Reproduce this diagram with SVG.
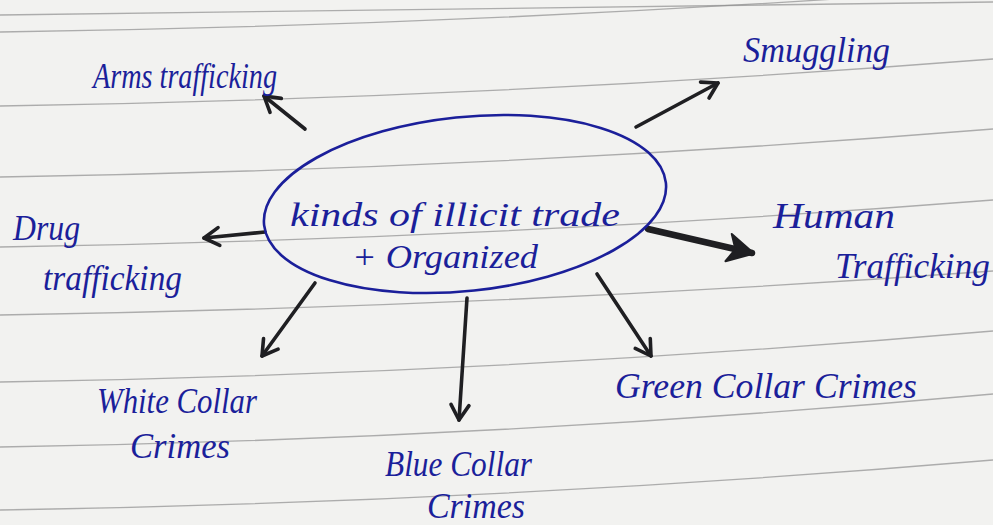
<svg xmlns="http://www.w3.org/2000/svg" width="993" height="525" viewBox="0 0 993 525">
  <style>
    .paper { fill: #f2f2f0; }
    .rule { fill: none; stroke: #8e8e8e; stroke-width: 1.3; opacity: 0.7; }
    .ink { fill: #1b1f9a; font-family: "Liberation Serif", "DejaVu Serif", serif; font-style: italic; }
    .label { font-size: 36px; }
    .core { font-size: 34px; }
    .ring { fill: none; stroke: #1b1f9a; stroke-width: 2.6; }
    .arrow { fill: none; stroke: #1f1f22; stroke-width: 3.6; stroke-linecap: round; }
    .heavy { stroke-width: 6.5; }
  </style>
  <defs>
    <marker id="chevron" viewBox="-18 -12 22 24" refX="0" refY="0" markerWidth="22" markerHeight="24" markerUnits="userSpaceOnUse" orient="auto">
      <path d="M-15,-9 L0,0 L-15,9" fill="none" stroke="#1f1f22" stroke-width="3.6" stroke-linecap="round" stroke-linejoin="round"/>
    </marker>
    <marker id="wedge" viewBox="-26 -16 30 32" refX="0" refY="0" markerWidth="30" markerHeight="32" markerUnits="userSpaceOnUse" orient="auto">
      <path d="M-24,-14 L2,0 L-24,14 L-17,0 Z" fill="#1f1f22" stroke="#1f1f22" stroke-width="2" stroke-linejoin="round"/>
    </marker>
  </defs>

  <!-- notebook page -->
  <rect class="paper" x="0" y="0" width="993" height="525"/>
  <g id="ruling">
    <path class="rule" d="M0,15 Q496,10 993,2"/>
    <path class="rule" d="M0,32 Q496,25 993,-12"/>
    <path class="rule" d="M0,106 Q496,98 993,59"/>
    <path class="rule" d="M0,177 Q496,169 993,129"/>
    <path class="rule" d="M0,247 Q496,239 993,200"/>
    <path class="rule" d="M0,315 Q496,307 993,271"/>
    <path class="rule" d="M0,382 Q496,374 993,331"/>
    <path class="rule" d="M0,447 Q496,439 993,394"/>
    <path class="rule" d="M0,510 Q496,502 993,460"/>
  </g>

  <!-- connectors -->
  <g id="connectors">
    <path class="arrow" d="M305,129 L264,96" marker-end="url(#chevron)"/>
    <path class="arrow" d="M636,127 L718,83" marker-end="url(#chevron)"/>
    <path class="arrow" d="M265,232 L204,238" marker-end="url(#chevron)"/>
    <path class="arrow heavy" d="M648,229 L752,253" marker-end="url(#wedge)"/>
    <path class="arrow" d="M315,283 L262,356" marker-end="url(#chevron)"/>
    <path class="arrow" d="M467,298 L459,420" marker-end="url(#chevron)"/>
    <path class="arrow" d="M597,274 L651,356" marker-end="url(#chevron)"/>
  </g>

  <!-- central topic -->
  <g id="topic">
    <ellipse class="ring" cx="465" cy="204" rx="202" ry="87" transform="rotate(-6 465 204)"/>
    <text class="ink core" x="290" y="226" textLength="330" lengthAdjust="spacingAndGlyphs">kinds of illicit trade</text>
    <text class="ink core" x="352" y="268" textLength="186" lengthAdjust="spacingAndGlyphs">+ Organized</text>
  </g>

  <g id="arms">
    <text class="ink label" x="93" y="88" textLength="184" lengthAdjust="spacingAndGlyphs">Arms trafficking</text>
  </g>
  <g id="smuggling">
    <text class="ink label" x="743" y="62" textLength="147" lengthAdjust="spacingAndGlyphs">Smuggling</text>
  </g>
  <g id="drug">
    <text class="ink label" x="13" y="240" textLength="67" lengthAdjust="spacingAndGlyphs">Drug</text>
    <text class="ink label" x="43" y="290" textLength="139" lengthAdjust="spacingAndGlyphs">trafficking</text>
  </g>
  <g id="human">
    <text class="ink label" x="773" y="228" textLength="122" lengthAdjust="spacingAndGlyphs">Human</text>
    <text class="ink label" x="835" y="278" textLength="155" lengthAdjust="spacingAndGlyphs">Trafficking</text>
  </g>
  <g id="white-collar">
    <text class="ink label" x="97" y="413" textLength="160" lengthAdjust="spacingAndGlyphs">White Collar</text>
    <text class="ink label" x="130" y="458" textLength="100" lengthAdjust="spacingAndGlyphs">Crimes</text>
  </g>
  <g id="blue-collar">
    <text class="ink label" x="385" y="476" textLength="147" lengthAdjust="spacingAndGlyphs">Blue Collar</text>
    <text class="ink label" x="427" y="518" textLength="98" lengthAdjust="spacingAndGlyphs">Crimes</text>
  </g>
  <g id="green-collar">
    <text class="ink label" x="615" y="398" textLength="302" lengthAdjust="spacingAndGlyphs">Green Collar Crimes</text>
  </g>
</svg>
